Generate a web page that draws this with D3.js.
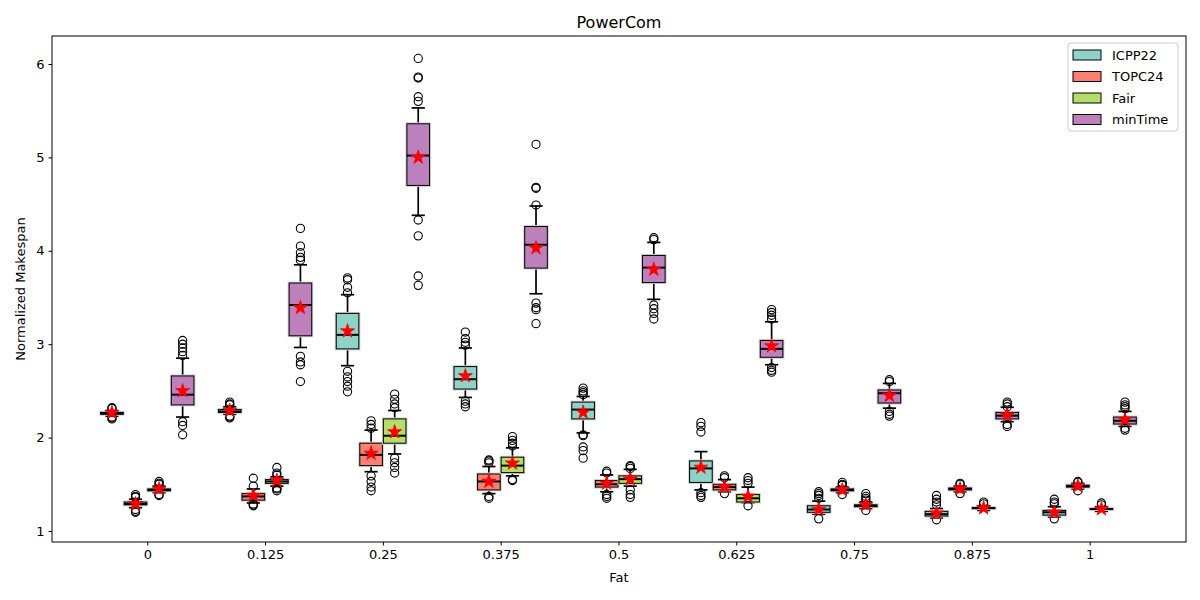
<!DOCTYPE html>
<html>
<head>
<meta charset="utf-8">
<script src="https://cdn.jsdelivr.net/npm/d3@7"></script>
<style>
  body { margin: 0; background: #fff; }
  svg { font-family: "DejaVu Sans", sans-serif; }
</style>
</head>
<body>
<svg id="chart" width="1200" height="600"></svg>
<script>
// Fat levels (x groups) and series
var fatLabels = ['0', '0.125', '0.25', '0.375', '0.5', '0.625', '0.75', '0.875', '1'];
var seriesNames = ['ICPP22', 'TOPC24', 'Fair', 'minTime'];
var yTicks = [1, 2, 3, 4, 5, 6];

// per group: [whiskerLow, q1, median, q3, whiskerHigh, mean]
var icppStats = [
  [2.23, 2.25, 2.26, 2.27, 2.29, 2.265],
  [2.25, 2.27, 2.28, 2.30, 2.33, 2.29],
  [2.77, 2.95, 3.10, 3.33, 3.53, 3.14],
  [2.43, 2.52, 2.625, 2.76, 2.96, 2.66],
  [2.05, 2.20, 2.30, 2.38, 2.44, 2.27],
  [1.44, 1.52, 1.67, 1.75, 1.85, 1.68],
  [1.18, 1.20, 1.23, 1.27, 1.32, 1.23],
  [1.14, 1.16, 1.18, 1.21, 1.24, 1.19],
  [1.15, 1.17, 1.20, 1.22, 1.26, 1.20]
];
var icppOutliers = [
  [2.20, 2.21, 2.22, 2.31, 2.32],
  [2.21, 2.22, 2.23, 2.35, 2.36, 2.38],
  [3.55, 3.61, 3.69, 3.71, 2.71, 2.65, 2.60, 2.55, 2.49],
  [2.99, 3.02, 3.06, 3.13, 2.39, 2.36, 2.33],
  [2.46, 2.48, 2.50, 2.53, 2.03, 2.02, 1.90, 1.86, 1.78],
  [2.06, 2.12, 2.16, 1.41, 1.38, 1.36],
  [1.35, 1.38, 1.40, 1.42, 1.13],
  [1.28, 1.31, 1.34, 1.38, 1.12],
  [1.29, 1.31, 1.34, 1.13]
];

var topcStats = [
  [1.25, 1.28, 1.29, 1.31, 1.34, 1.29],
  [1.30, 1.33, 1.37, 1.40, 1.45, 1.38],
  [1.635, 1.70, 1.815, 1.94, 2.08, 1.83],
  [1.40, 1.44, 1.53, 1.61, 1.69, 1.53],
  [1.42, 1.47, 1.50, 1.54, 1.60, 1.51],
  [1.42, 1.44, 1.47, 1.50, 1.55, 1.47],
  [1.41, 1.43, 1.44, 1.45, 1.47, 1.44],
  [1.42, 1.44, 1.45, 1.46, 1.48, 1.45],
  [1.45, 1.47, 1.48, 1.49, 1.51, 1.48]
];
var topcOutliers = [
  [1.20, 1.21, 1.23, 1.36, 1.37, 1.39],
  [1.27, 1.28, 1.29, 1.48, 1.565],
  [2.10, 2.14, 2.18, 1.59, 1.53, 1.47, 1.43],
  [1.73, 1.75, 1.76, 1.37, 1.35],
  [1.62, 1.64, 1.39, 1.37, 1.35],
  [1.57, 1.59, 1.40],
  [1.49, 1.50, 1.52, 1.39],
  [1.50, 1.51, 1.40],
  [1.52, 1.53, 1.43]
];

var fairStats = [
  [1.41, 1.43, 1.44, 1.45, 1.48, 1.45],
  [1.48, 1.51, 1.53, 1.55, 1.58, 1.54],
  [1.825, 1.94, 2.02, 2.20, 2.29, 2.06],
  [1.59, 1.625, 1.70, 1.79, 1.89, 1.725],
  [1.48, 1.51, 1.555, 1.59, 1.66, 1.555],
  [1.30, 1.31, 1.35, 1.39, 1.47, 1.37],
  [1.24, 1.26, 1.27, 1.28, 1.31, 1.28],
  [1.22, 1.24, 1.245, 1.25, 1.27, 1.245],
  [1.21, 1.23, 1.235, 1.24, 1.26, 1.235]
];
var fairOutliers = [
  [1.38, 1.39, 1.50, 1.51, 1.53],
  [1.43, 1.45, 1.46, 1.60, 1.62, 1.68],
  [2.32, 2.36, 2.41, 2.465, 1.78, 1.73, 1.68, 1.62],
  [1.91, 1.94, 1.97, 2.01, 1.55, 1.54],
  [1.67, 1.69, 1.70, 1.44, 1.39, 1.36],
  [1.51, 1.54, 1.57, 1.27],
  [1.33, 1.35, 1.37, 1.40, 1.22],
  [1.29, 1.31],
  [1.28, 1.30]
];

var minTimeStats = [
  [2.22, 2.35, 2.46, 2.66, 2.85, 2.50],
  [2.965, 3.09, 3.42, 3.655, 3.85, 3.39],
  [4.38, 4.70, 5.02, 5.36, 5.53, 5.00],
  [3.54, 3.815, 4.065, 4.26, 4.48, 4.03],
  [3.48, 3.66, 3.82, 3.95, 4.09, 3.80],
  [2.78, 2.86, 2.95, 3.04, 3.24, 2.98],
  [2.315, 2.37, 2.475, 2.51, 2.58, 2.45],
  [2.17, 2.20, 2.235, 2.27, 2.325, 2.24],
  [2.12, 2.145, 2.18, 2.22, 2.28, 2.19]
];
var minTimeOutliers = [
  [2.88, 2.92, 2.96, 3.00, 3.04, 2.17, 2.13, 2.03],
  [3.90, 3.93, 3.98, 4.05, 4.24, 2.87, 2.81, 2.78, 2.60],
  [5.60, 5.65, 5.85, 5.86, 6.06, 4.33, 4.16, 3.73, 3.63],
  [4.49, 4.67, 4.68, 5.14, 3.44, 3.39, 3.37, 3.22],
  [4.12, 4.14, 3.42, 3.38, 3.33, 3.27],
  [3.27, 3.31, 3.34, 3.37, 2.75, 2.72, 2.70],
  [2.60, 2.62, 2.28, 2.25, 2.23],
  [2.33, 2.36, 2.38, 2.14, 2.12],
  [2.31, 2.33, 2.35, 2.38, 2.10, 2.08]
];

var palette = ['#8dd3c7', '#fb8072', '#b3de69', '#bc80bd'];

var allStats = [icppStats, topcStats, fairStats, minTimeStats];
var allOutliers = [icppOutliers, topcOutliers, fairOutliers, minTimeOutliers];

var margin = {left: 52, right: 14, top: 36, bottom: 58};
var W = 1200, H = 600;
var svg = d3.select('#chart');

// box positions: group i, series j -> i*5 + j
var x = d3.scaleLinear().domain([-2.545, 45.59]).range([margin.left, W - margin.right]);
var y = d3.scaleLinear().domain([0.882, 6.30]).range([H - margin.bottom, margin.top]);
var unit = x(1) - x(0);
var boxW = unit * 0.96;
var capW = unit * 0.28;

var groupPos = fatLabels.map(function(d, i) { return i * 5 + 1.5; });

// axes
var xAxis = d3.axisBottom(x).tickValues(groupPos)
  .tickFormat(function(d, i) { return fatLabels[i]; })
  .tickSize(3.5).tickPadding(4);
var yAxis = d3.axisLeft(y).tickValues(yTicks).tickFormat(d3.format('d'))
  .tickSize(3.5).tickPadding(4);

var plot = svg.append('g');

function drawSeries(j) {
  var g = plot.append('g').attr('class', 'series-' + j);
  var stats = allStats[j], outl = allOutliers[j];
  stats.forEach(function(s, i) {
    var cx = x(i * 5 + j);
    // whiskers
    g.append('line').attr('x1', cx).attr('x2', cx).attr('y1', y(s[0])).attr('y2', y(s[1]))
      .attr('stroke', '#000').attr('stroke-width', 1.7);
    g.append('line').attr('x1', cx).attr('x2', cx).attr('y1', y(s[3])).attr('y2', y(s[4]))
      .attr('stroke', '#000').attr('stroke-width', 1.7);
    [s[0], s[4]].forEach(function(v) {
      g.append('line').attr('x1', cx - capW).attr('x2', cx + capW).attr('y1', y(v)).attr('y2', y(v))
        .attr('stroke', '#000').attr('stroke-width', 1.7);
    });
    // box (faint halo then box)
    g.append('rect').attr('x', cx - boxW / 2).attr('y', y(s[3]))
      .attr('width', boxW).attr('height', Math.max(0.5, y(s[1]) - y(s[3])))
      .attr('fill', 'none').attr('stroke', '#d0d0d0').attr('stroke-width', 3);
    g.append('rect').attr('x', cx - boxW / 2).attr('y', y(s[3]))
      .attr('width', boxW).attr('height', Math.max(0.5, y(s[1]) - y(s[3])))
      .attr('fill', palette[j]).attr('stroke', '#000').attr('stroke-width', 1);
    // median
    g.append('line').attr('x1', cx - boxW / 2).attr('x2', cx + boxW / 2)
      .attr('y1', y(s[2])).attr('y2', y(s[2]))
      .attr('stroke', '#000').attr('stroke-width', 2);
    // outliers
    g.selectAll(null).data(outl[i]).enter().append('circle')
      .attr('cx', cx).attr('cy', function(v) { return y(v); }).attr('r', 4.1)
      .attr('fill', 'none').attr('stroke', '#000').attr('stroke-width', 1.1);
    // mean
    g.append('path').attr('d', d3.symbol().type(d3.symbolStar).size(62)())
      .attr('transform', 'translate(' + cx + ',' + y(s[5]) + ')')
      .attr('fill', '#ff0000').attr('stroke', '#ff0000').attr('stroke-width', 0.8)
      .attr('stroke-linejoin', 'miter');
  });
}
seriesNames.forEach(function(name, j) { drawSeries(j); });

// frame
svg.append('rect').attr('x', margin.left).attr('y', margin.top)
  .attr('width', W - margin.left - margin.right).attr('height', H - margin.top - margin.bottom)
  .attr('fill', 'none').attr('stroke', '#000').attr('stroke-width', 1);

var gx = svg.append('g').attr('transform', 'translate(0,' + (H - margin.bottom) + ')').call(xAxis);
var gy = svg.append('g').attr('transform', 'translate(' + margin.left + ',0)').call(yAxis);
[gx, gy].forEach(function(g) {
  g.select('.domain').remove();
  g.selectAll('text').attr('font-size', 13).attr('fill', '#000').attr('font-family', 'DejaVu Sans');
  g.selectAll('line').attr('stroke', '#000');
});

// title and axis labels
svg.append('text').attr('x', (margin.left + W - margin.right) / 2).attr('y', 28)
  .attr('text-anchor', 'middle').attr('font-size', 16).text('PowerCom');
svg.append('text').attr('x', (margin.left + W - margin.right) / 2).attr('y', 582)
  .attr('text-anchor', 'middle').attr('font-size', 13).text('Fat');
svg.append('text').attr('transform', 'translate(25,' + ((margin.top + H - margin.bottom) / 2) + ') rotate(-90)')
  .attr('text-anchor', 'middle').attr('font-size', 13).text('Normalized Makespan');

// legend
var lg = svg.append('g').attr('transform', 'translate(1068,43)');
lg.append('rect').attr('width', 110).attr('height', 88).attr('rx', 3)
  .attr('fill', '#fff').attr('fill-opacity', 0.8).attr('stroke', '#cccccc');
seriesNames.forEach(function(name, j) {
  var row = lg.append('g').attr('transform', 'translate(0,' + (12 + j * 21.5) + ')');
  row.append('rect').attr('x', 5).attr('y', -5).attr('width', 28).attr('height', 10)
    .attr('fill', palette[j]).attr('stroke', '#000').attr('stroke-width', 1);
  row.append('text').attr('x', 44).attr('y', 0).attr('dy', '0.35em')
    .attr('font-size', 13).text(name);
});
</script>
</body>
</html>
